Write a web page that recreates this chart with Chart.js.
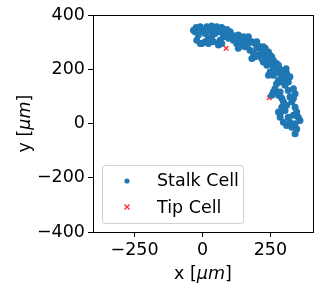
<!DOCTYPE html>
<html>
<head>
<meta charset="utf-8">
<script src="https://cdn.jsdelivr.net/npm/chart.js@4"></script>
<style>
  body { margin: 0; background: #fff; }
</style>
</head>
<body>
<canvas id="myChart" width="321" height="292"></canvas>
<script>
// stalk cells (um)
const stalkX = [-23, -27, -15, -21, -8, 10, 22, 10, -2, 16, 34, 53, 71, 90, 102, 108, 96, 77, 65, 59, 71, 41, 34, 47, 65, 83, 47, 28, -8, -33, -2, 22,
  114, 126, 139, 151, 163, 145, 132, 157, 169, 182, 194, 175, 188, 200, 212, 218, 206, 194, 182, 218, 231, 237, 224, 243, 249, 237, 255, 261, 249, 243, 261, 273, 280, 267, 286, 292, 280, 273, 286, 298, 304, 310, 316, 322, 267, 261, 255,
  120, 132, 151, 169, 200, 224, 231, 243, 249, 261, 273, 280, 292, 298, 310, 308,
  267, 286, 280, 292, 298, 316, 335, 341, 322, 329, 341, 347, 335, 353, 359, 341, 329, 310, 298, 286, 292, 304, 316, 347, 341, 322, 310, 335, 286, 280];
const stalkY = [354, 338, 326, 307, 295, 301, 314, 332, 344, 357, 359, 357, 354, 347, 338, 326, 314, 320, 307, 289, 295, 301, 320, 332, 338, 330, 344, 342, 357, 344, 295, 295,
  307, 295, 314, 320, 307, 289, 277, 283, 295, 301, 295, 270, 258, 277, 283, 264, 252, 246, 240, 240, 258, 246, 227, 233, 221, 215, 246, 209, 190, 178, 178, 190, 202, 221, 184, 172, 159, 147, 153, 159, 141, 165, 153, 172, 128, 116, 104,
  323, 326, 301, 320, 301, 283, 277, 264, 252, 233, 221, 215, 196, 184, 184, 202,
  122, 116, 104, 93, 80, 122, 128, 110, 98, 80, 60, 42, 30, 23, 11, -1, -14, -7, 5, 36, 60, 48, 23, -20, -38, 5, 67, 93, 23, 42];

// tip cells
const tipX = [87, 246];
const tipY = [277, 95];

const seriesNames = ["Stalk Cell", "Tip Cell"];
const xTicks = [-250, 0, 250];
const yTicks = [-400, -200, 0, 200, 400];

const blue = "#1f77b4";
const red = "rgba(255, 0, 0, 0.85)";
const fontFamily = "'DejaVu Sans', sans-serif";
const fontSize = 17.5;

function toPoints(xs, ys) {
  return xs.map((x, i) => ({ x: x, y: ys[i] }));
}

function fmt(v) {
  return v < 0 ? "\u2212" + Math.abs(v) : "" + v;
}

// axis label like "x [μm]" with the unit in italics, centred on (0,0)
function drawAxisLabel(ctx, name) {
  const normal = fontSize + "px " + fontFamily;
  const italic = "italic " + fontSize + "px " + fontFamily;
  const parts = [[name + " [", normal], ["μm", italic], ["]", normal]];
  let total = 0;
  parts.forEach((p) => { ctx.font = p[1]; total += ctx.measureText(p[0]).width; });
  let x = -total / 2;
  ctx.textAlign = "left";
  ctx.textBaseline = "middle";
  parts.forEach((p) => {
    ctx.font = p[1];
    ctx.fillText(p[0], x, 0);
    x += ctx.measureText(p[0]).width;
  });
}

// box around the plot, axis titles and the legend inside it
const frameAndLegend = {
  id: "frameAndLegend",
  afterDraw(chart) {
    const ctx = chart.ctx;
    const a = chart.chartArea;
    ctx.save();
    ctx.strokeStyle = "#000";
    ctx.lineWidth = 1;
    ctx.strokeRect(Math.round(a.left) + 0.5, Math.round(a.top) + 0.5, Math.round(a.right - a.left), Math.round(a.bottom - a.top));

    ctx.fillStyle = "#000";
    ctx.save();
    ctx.translate((a.left + a.right) / 2, 274);
    drawAxisLabel(ctx, "x");
    ctx.restore();
    ctx.save();
    ctx.translate(25, (a.top + a.bottom) / 2);
    ctx.rotate(-Math.PI / 2);
    drawAxisLabel(ctx, "y");
    ctx.restore();

    // legend box
    ctx.beginPath();
    ctx.roundRect(102.5, 165.5, 141, 58, 3);
    ctx.fillStyle = "rgba(255,255,255,0.8)";
    ctx.fill();
    ctx.strokeStyle = "#d0d0d0";
    ctx.stroke();

    ctx.beginPath();
    ctx.arc(127, 181, 2.6, 0, Math.PI * 2);
    ctx.fillStyle = blue;
    ctx.fill();

    ctx.beginPath();
    ctx.moveTo(124.5, 204.5); ctx.lineTo(129.5, 209.5);
    ctx.moveTo(129.5, 204.5); ctx.lineTo(124.5, 209.5);
    ctx.strokeStyle = red;
    ctx.lineWidth = 1.3;
    ctx.stroke();

    ctx.fillStyle = "#000";
    ctx.font = fontSize + "px " + fontFamily;
    ctx.textBaseline = "middle";
    ctx.textAlign = "left";
    ctx.fillText(seriesNames[0], 157, 181);
    ctx.fillText(seriesNames[1], 157, 208);
    ctx.restore();
  }
};

const ctx = document.getElementById("myChart").getContext("2d");
const myChart = new Chart(ctx, {
  type: "scatter",
  data: {
    datasets: [
      {
        label: seriesNames[0],
        data: toPoints(stalkX, stalkY),
        backgroundColor: blue,
        borderWidth: 0,
        pointRadius: 3.5,
      },
      {
        label: seriesNames[1],
        data: toPoints(tipX, tipY),
        pointStyle: "crossRot",
        borderColor: red,
        borderWidth: 1.4,
        pointRadius: 3.2,
      },
    ],
  },
  options: {
    responsive: false,
    animation: false,
    devicePixelRatio: 1,
    layout: { padding: { top: 15, right: 8, left: 0, bottom: 0 } },
    plugins: {
      legend: { display: false },
      tooltip: { enabled: false },
    },
    scales: {
      x: {
        type: "linear",
        min: -403,
        max: 407,
        afterBuildTicks: (s) => { s.ticks = xTicks.map((v) => ({ value: v })); },
        afterFit: (s) => { s.height = 60; },
        grid: { drawOnChartArea: false, drawTicks: true, tickLength: 5, color: "#000" },
        border: { display: true, color: "#000" },
        ticks: { color: "#000", padding: 3, maxRotation: 0, font: { family: fontFamily, size: fontSize }, callback: fmt },
      },
      y: {
        type: "linear",
        min: -400,
        max: 400,
        afterBuildTicks: (s) => { s.ticks = yTicks.map((v) => ({ value: v })); },
        afterFit: (s) => { s.width = 93; },
        grid: { drawOnChartArea: false, drawTicks: true, tickLength: 5, color: "#000" },
        border: { display: true, color: "#000" },
        ticks: { color: "#000", padding: 3, font: { family: fontFamily, size: fontSize }, callback: fmt },
      },
    },
  },
  plugins: [frameAndLegend],
});
</script>
</body>
</html>
